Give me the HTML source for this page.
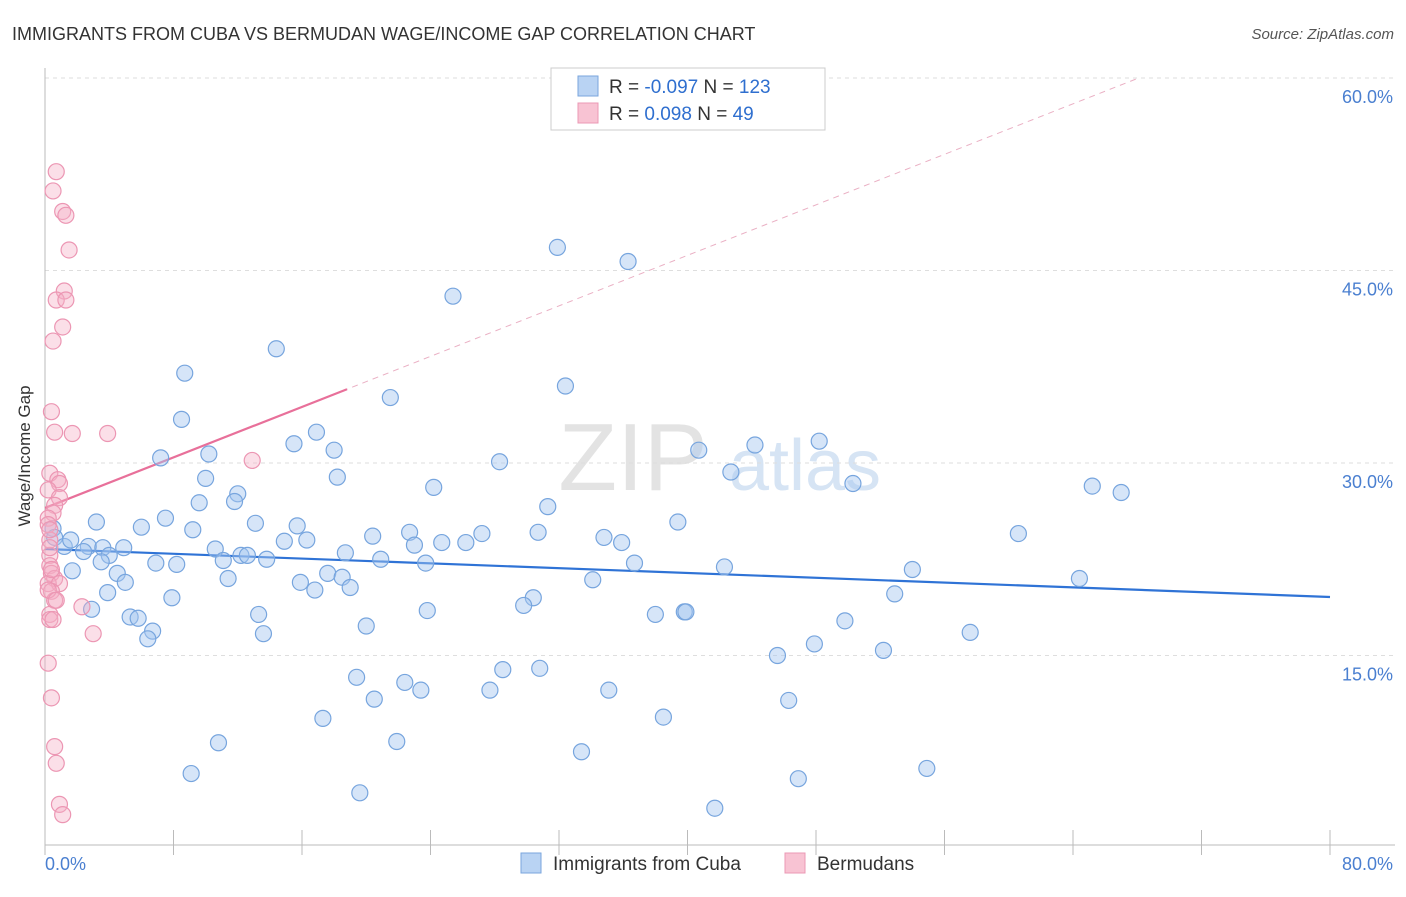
<!DOCTYPE html>
<html><head><meta charset="utf-8"><style>
body{margin:0;background:#fff;font-family:"Liberation Sans",sans-serif;}
svg text{font-family:"Liberation Sans",sans-serif;}
</style></head><body>
<svg id="chart" width="1406" height="892" viewBox="0 0 1406 892" xmlns="http://www.w3.org/2000/svg">
<text x="12" y="40" font-size="18" fill="#333">IMMIGRANTS FROM CUBA VS BERMUDAN WAGE/INCOME GAP CORRELATION CHART</text>
<text x="1394" y="39" font-size="15" fill="#555" font-style="italic" text-anchor="end">Source: ZipAtlas.com</text>
<text x="30" y="456" font-size="17" fill="#333" text-anchor="middle" transform="rotate(-90 30 456)">Wage/Income Gap</text>
<g><text x="633" y="490" font-size="96" fill="#e3e3e3" font-family="Liberation Serif" text-anchor="middle">ZIP</text><text x="805" y="490" font-size="72" fill="#d6e4f4" text-anchor="middle">atlas</text></g>
<g id="grid"></g>
<g id="axes"></g>
<g id="trend"></g>
<g id="points"></g>
<g>
<rect x="551" y="68" width="274" height="62" fill="#fff" stroke="#ccc"/>
<rect x="578" y="76" width="20" height="20" fill="#b9d3f3" stroke="#7aa6dd"/>
<rect x="578" y="103" width="20" height="20" fill="#f8c3d3" stroke="#eb98b4"/>
<text x="609" y="93" font-size="19" fill="#333">R = <tspan fill="#2f6fcf">-0.097</tspan>   N = <tspan fill="#2f6fcf">123</tspan></text>
<text x="609" y="120" font-size="19" fill="#333">R =  <tspan fill="#2f6fcf"> 0.098</tspan>   N =  <tspan fill="#2f6fcf"> 49</tspan></text>
</g>
<g>
<rect x="521" y="853" width="20" height="20" fill="#b9d3f3" stroke="#7aa6dd"/>
<text x="553" y="870" font-size="19" fill="#333">Immigrants from Cuba</text>
<rect x="785" y="853" width="20" height="20" fill="#f8c3d3" stroke="#eb98b4"/>
<text x="817" y="870" font-size="19" fill="#333">Bermudans</text>
</g>
</svg>
<script>
const xTickLabels=["0.0%","80.0%"];
const yTicks=[15,30,45,60];
const yTickLabels=["15.0%","30.0%","45.0%","60.0%"];
const cubaX=[31.9,36.3,25.4,14.4,32.4,21.5,8.7,8.5,10.2,7.2,15.5,16.9,18.0,18.2,28.3,24.2,44.2,48.2,40.7,42.7,50.3,65.2,67.0,10.0,12.0,9.6,11.8,7.5,3.2,6.0,9.2,13.1,15.7,31.3,39.4,60.6,30.7,22.7,27.2,20.4,16.3,14.9,24.7,26.2,23.0,34.8,35.9,0.5,0.6,1.2,1.6,2.7,2.4,3.6,4.9,4.0,10.6,12.2,12.6,13.8,11.1,18.7,20.9,23.7,36.7,42.3,54.0,64.4,3.5,6.9,8.2,1.7,4.5,5.0,11.4,15.9,17.6,18.5,19.0,16.8,34.1,3.9,7.9,30.4,29.8,52.9,2.9,5.3,5.8,13.3,23.8,38.0,39.8,39.9,49.8,20.0,6.7,6.4,13.6,57.6,47.9,45.6,52.2,19.4,22.4,23.4,28.5,30.8,27.7,35.1,20.5,46.3,17.3,38.5,10.8,21.9,33.4,9.1,46.9,54.9,19.6,41.7];
const cubaY=[46.8,45.7,43.0,38.9,36.0,35.1,37.0,33.4,30.7,30.4,31.5,32.4,31.0,28.9,30.1,28.1,31.4,31.7,31.0,29.3,28.4,28.2,27.7,28.8,27.6,26.9,27.0,25.7,25.4,25.0,24.8,25.3,25.1,26.6,25.4,24.5,24.6,24.6,24.5,24.3,24.0,23.9,23.8,23.8,23.6,24.2,23.8,24.9,24.2,23.5,24.0,23.5,23.1,23.4,23.4,22.8,23.3,22.8,22.8,22.5,22.4,23.0,22.5,22.2,22.2,21.9,21.7,21.0,22.3,22.2,22.1,21.6,21.4,20.7,21.0,20.7,21.4,21.1,20.3,20.1,20.9,19.9,19.5,19.5,18.9,19.8,18.6,18.0,17.9,18.2,18.5,18.2,18.4,18.4,17.7,17.3,16.9,16.3,16.7,16.8,15.9,15.0,15.4,13.3,12.9,12.3,13.9,14.0,12.3,12.3,11.6,11.5,10.1,10.2,8.2,8.3,7.5,5.8,5.4,6.2,4.3,3.1];
const bermX=[0.7,0.5,1.1,1.3,1.5,1.2,0.7,1.3,1.1,0.5,0.4,0.6,1.7,3.9,12.9,0.3,0.8,0.9,0.2,0.9,0.6,0.5,0.2,0.3,0.3,0.3,0.4,0.6,0.2,0.9,0.4,0.6,2.3,0.3,0.3,0.5,3.0,0.2,0.4,0.6,0.7,0.9,1.1,0.2,0.3,0.2,0.4,0.3,0.7];
const bermY=[52.7,51.2,49.6,49.3,46.6,43.4,42.7,42.7,40.6,39.5,34.0,32.4,32.3,32.3,30.2,29.2,28.7,28.4,27.9,27.3,26.7,26.1,25.7,24.0,22.8,22.0,21.4,21.0,20.6,20.6,20.0,19.3,18.8,18.2,17.8,17.8,16.7,14.4,11.7,7.9,6.6,3.4,2.6,25.2,24.8,20.1,21.7,23.4,19.3];
const cubaTrend=[23.3,19.56];
const bermTrend=[26.5,0.492];

const NS="http://www.w3.org/2000/svg";
const X0=45,X1=1330,Y0=848,YPX=770/60;
const xs=v=>X0+v/80*(X1-X0);
const ys=v=>Y0-v*YPX;
function mk(tag,attrs,parent){const e=document.createElementNS(NS,tag);for(const k in attrs)e.setAttribute(k,attrs[k]);parent.appendChild(e);return e;}
const grid=document.getElementById('grid'),axes=document.getElementById('axes');
yTicks.forEach((t,i)=>{
 const l=mk('line',{x1:45,x2:1395,y1:ys(t),y2:ys(t),stroke:'#dedede','stroke-dasharray':'4 4'},grid);
 
 
 const tx=mk('text',{x:1393,y:ys(t)+25,'font-size':18,fill:'#4a7fd0','text-anchor':'end'},axes);
 tx.textContent=yTickLabels[i];
 
 
});
const ya=mk('line',{x1:45,x2:45,y1:68,y2:845,stroke:'#bbb'},axes);


const xa=mk('line',{x1:45,x2:1395,y1:845,y2:845,stroke:'#bbb'},axes);


for(let i=0;i<=10;i++){
 const tk=mk('line',{x1:xs(i*8),x2:xs(i*8),y1:830,y2:855,stroke:'#bbb'},axes);
 
 
}
[[0,'start',45],[80,'end',1393]].forEach((p,i)=>{
 const tx=mk('text',{x:p[2],y:870,'font-size':18,fill:'#4a7fd0','text-anchor':p[1]},axes);
 tx.textContent=xTickLabels[i];
 
 
});
const tr=document.getElementById('trend');
const bl=mk('line',{x1:xs(0),y1:ys(cubaTrend[0]),x2:xs(80),y2:ys(cubaTrend[1]),stroke:'#2f73d6','stroke-width':2.2},tr);


const xEnd=(60-bermTrend[0])/bermTrend[1];
const pd=mk('line',{x1:xs(0),y1:ys(bermTrend[0]),x2:xs(xEnd),y2:ys(60),stroke:'#eab0c4','stroke-width':1,'stroke-dasharray':'6 5'},tr);


const ps=mk('line',{x1:xs(0),y1:ys(bermTrend[0]),x2:xs(18.8),y2:ys(bermTrend[0]+bermTrend[1]*18.8),stroke:'#e8709a','stroke-width':2.2},tr);


const pts=document.getElementById('points');
cubaX.forEach((x,i)=>{
 const c=mk('circle',{cx:xs(x),cy:ys(cubaY[i]),r:8,fill:'rgba(165,198,240,0.45)',stroke:'#77a5de','stroke-width':1.2},pts);
 
 
});
bermX.forEach((x,i)=>{
 const c=mk('circle',{cx:xs(x),cy:ys(bermY[i]),r:8,fill:'rgba(246,175,198,0.4)',stroke:'#ec96b3','stroke-width':1.2},pts);
 
 
});
</script>
</body></html>
